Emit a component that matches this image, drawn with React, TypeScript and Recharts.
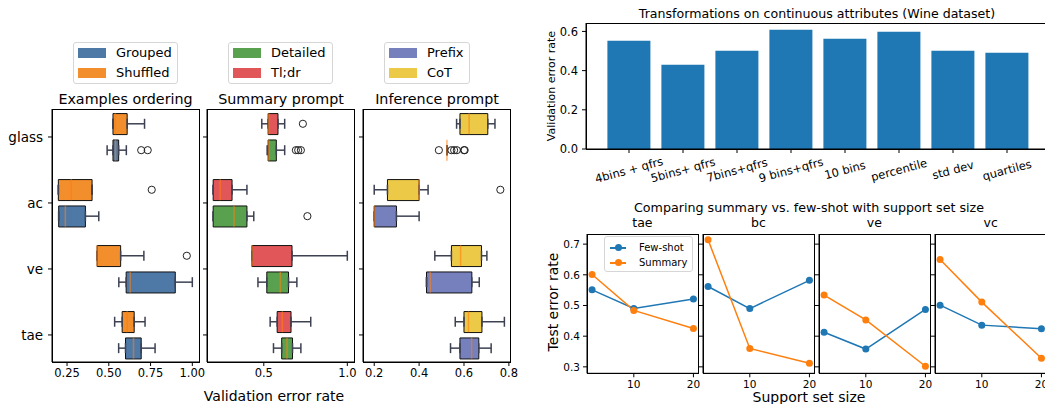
import React from "react";
import {
  Bar,
  BarChart,
  Cell,
  ComposedChart,
  ErrorBar,
  Line,
  LineChart,
  Scatter,
  XAxis,
  YAxis,
} from "recharts";

// ---- boxplot data (left) ----
const datasets = ["glass", "ac", "ve", "tae"];

// [whisker low, q1, median, q3, whisker high] per dataset
const groupedStats = [
  [0.49, 0.525, 0.54, 0.559, 0.605],
  [0.2, 0.2, 0.24, 0.36, 0.44],
  [0.56, 0.604, 0.628, 0.898, 1.0],
  [0.559, 0.6, 0.648, 0.694, 0.777],
];
const shuffledStats = [
  [0.525, 0.525, 0.539, 0.61, 0.714],
  [0.198, 0.198, 0.275, 0.4, 0.4],
  [0.43, 0.43, 0.43, 0.571, 0.71],
  [0.535, 0.58, 0.61, 0.652, 0.717],
];
const groupedOutliers = [[0.694, 0.733], [], [], []];
const shuffledOutliers = [[], [0.757], [0.967], []];

const detailedStats = [
  [0.52, 0.526, 0.53, 0.575, 0.625],
  [0.197, 0.197, 0.322, 0.399, 0.44],
  [0.465, 0.518, 0.599, 0.648, 0.698],
  [0.558, 0.607, 0.639, 0.672, 0.722],
];
const tldrStats = [
  [0.488, 0.526, 0.53, 0.585, 0.625],
  [0.197, 0.197, 0.239, 0.31, 0.399],
  [0.429, 0.429, 0.43, 0.669, 1.0],
  [0.538, 0.58, 0.611, 0.663, 0.781],
];
const detailedOutliers = [[0.692, 0.706, 0.722], [0.761], [], []];
const tldrOutliers = [[0.734], [], [], []];

const prefixStats = [
  [0.524, 0.524, 0.524, 0.524, 0.524],
  [0.2, 0.2, 0.2, 0.299, 0.4],
  [0.433, 0.433, 0.45, 0.635, 0.668],
  [0.54, 0.582, 0.634, 0.666, 0.721],
];
const cotStats = [
  [0.567, 0.582, 0.623, 0.706, 0.738],
  [0.2, 0.259, 0.4, 0.4, 0.44],
  [0.47, 0.544, 0.585, 0.678, 0.702],
  [0.561, 0.6, 0.62, 0.68, 0.78],
];
const prefixOutliers = [[0.488, 0.544, 0.556, 0.568, 0.6, 0.603], [], [], []];
const cotOutliers = [[], [0.762], [], []];

// ---- bar chart data (top right) ----
const transforms = [
  "4bins + qfrs",
  "5bins+ qfrs",
  "7bins+qfrs",
  "9 bins+qfrs",
  "10 bins",
  "percentile",
  "std dev",
  "quartiles",
];
const transformErrors = [0.552, 0.43, 0.501, 0.609, 0.563, 0.598, 0.501, 0.491];

// ---- line charts data (bottom right) ----
const supportSizes = [3, 10, 20];
const lineDatasets = ["tae", "bc", "ve", "vc"];
const fewShotErrors = [
  [0.551, 0.49, 0.521],
  [0.562, 0.49, 0.582],
  [0.413, 0.358, 0.487],
  [0.501, 0.436, 0.424],
];
const summaryErrors = [
  [0.601, 0.484, 0.425],
  [0.714, 0.36, 0.312],
  [0.534, 0.453, 0.302],
  [0.65, 0.511, 0.328],
];

const FONT = '"DejaVu Sans", sans-serif';
const WHISKER = "#3d4152";

const buildRows = (upper, lower, upperColor, lowerColor) => {
  const rows = [];
  datasets.forEach((_, i) => {
    [
      [upper, upperColor, -0.2],
      [lower, lowerColor, 0.2],
    ].forEach(([s, color, off]) => {
      const [lo, q1, med, q3, hi] = s[i];
      rows.push({
        pos: i + off,
        q1,
        q3,
        med,
        box: [q1, q3],
        loErr: [q1 - lo, 0],
        hiErr: [0, hi - q3],
        color,
      });
    });
  });
  return rows;
};

const buildOutliers = (upper, lower) => {
  const pts = [];
  datasets.forEach((_, i) => {
    upper[i].forEach((v) => pts.push({ pos: i - 0.2, x: v }));
    lower[i].forEach((v) => pts.push({ pos: i + 0.2, x: v }));
  });
  return pts;
};

const MedianLine = (p) => (
  <line
    x1={p.cx}
    x2={p.cx}
    y1={p.cy - 10.5}
    y2={p.cy + 10.5}
    stroke="#ff7f0e"
    strokeOpacity={0.6}
    strokeWidth={1.5}
  />
);

const Hollow = (p) => (
  <circle cx={p.cx} cy={p.cy} r={3.6} fill="none" stroke="#222" strokeWidth={1} />
);

const Frame = ({ left, top, width, height }) => (
  <div
    style={{
      position: "absolute",
      left,
      top,
      width,
      height,
      border: "1px solid #000",
      boxSizing: "border-box",
      pointerEvents: "none",
    }}
  />
);

const BoxPanel = ({ left, rows, outliers, domain, ticks, tickFmt, showLabels }) => (
  <>
    <div style={{ position: "absolute", left, top: 90 }}>
      <ComposedChart
        width={215}
        height={314}
        layout="vertical"
        data={rows}
        margin={{ top: 19, right: 16, bottom: 0, left: 0 }}
      >
        <XAxis
          type="number"
          domain={domain}
          ticks={ticks}
          allowDataOverflow
          tickFormatter={tickFmt}
          height={42}
          tickSize={4}
          tickMargin={3}
          stroke="#000"
          tick={{ fill: "#000", fontSize: 11.5 }}
        />
        <YAxis
          type="number"
          dataKey="pos"
          domain={[-0.424, 3.41]}
          allowDataOverflow
          ticks={[0, 1, 2, 3]}
          tickFormatter={(i) => (showLabels ? datasets[i] : "")}
          width={52}
          tickSize={4}
          tickMargin={5}
          stroke="#000"
          tick={{ fill: "#000", fontSize: 13.5 }}
        />
        <Scatter dataKey="q1" shape={() => <g />} isAnimationActive={false}>
          <ErrorBar dataKey="loErr" direction="x" width={5} stroke={WHISKER} strokeWidth={1.5} />
        </Scatter>
        <Scatter dataKey="q3" shape={() => <g />} isAnimationActive={false}>
          <ErrorBar dataKey="hiErr" direction="x" width={5} stroke={WHISKER} strokeWidth={1.5} />
        </Scatter>
        <Bar dataKey="box" barSize={21} stroke="#111" strokeWidth={1} isAnimationActive={false}>
          {rows.map((r, k) => (
            <Cell key={k} fill={r.color} />
          ))}
        </Bar>
        <Scatter dataKey="med" shape={MedianLine} isAnimationActive={false} />
        <Scatter data={outliers} dataKey="x" shape={Hollow} isAnimationActive={false} />
      </ComposedChart>
    </div>
    <Frame left={left + 52} top={109} width={148} height={254} />
  </>
);

const BoxLegend = ({ left, width, items }) => (
  <div
    style={{
      position: "absolute",
      left,
      top: 42,
      width,
      height: 42,
      border: "1px solid #d6d6d6",
      borderRadius: 3,
      boxSizing: "border-box",
      background: "#fff",
    }}
  >
    {items.map(([label, color], k) => (
      <React.Fragment key={label}>
        <div
          style={{
            position: "absolute",
            left: 4,
            top: 5 + k * 19.6,
            width: 28,
            height: 10,
            background: color,
          }}
        />
        <div
          style={{
            position: "absolute",
            left: 42,
            top: 1 + k * 19.6,
            fontSize: 13,
            lineHeight: "18px",
            whiteSpace: "nowrap",
          }}
        >
          {label}
        </div>
      </React.Fragment>
    ))}
  </div>
);

const Text = ({ x, y, size, children, rotate = 0 }) => (
  <div
    style={{
      position: "absolute",
      left: x,
      top: y,
      transform: `translate(-50%, -50%) rotate(${rotate}deg)`,
      fontSize: size,
      whiteSpace: "nowrap",
      lineHeight: 1,
    }}
  >
    {children}
  </div>
);

const RotatedTick = ({ x, y, payload }) => (
  <g transform={`translate(${x},${y + 15})`}>
    <text
      transform="rotate(-15)"
      textAnchor="middle"
      dominantBaseline="central"
      fontSize={11.5}
      fill="#000"
    >
      {payload.value}
    </text>
  </g>
);

const barData = transforms.map((name, i) => ({ name, err: transformErrors[i] }));

const lineLefts = [586.7, 702.7, 818.7, 935];

export default function App() {
  const rows1 = buildRows(shuffledStats, groupedStats, "#f28e2b", "#4e79a7");
  const rows2 = buildRows(tldrStats, detailedStats, "#e15759", "#59a14f");
  const rows3 = buildRows(cotStats, prefixStats, "#edc948", "#7580bd");

  return (
    <div
      style={{
        position: "absolute",
        left: 0,
        top: 0,
        width: 1045,
        height: 404,
        overflow: "hidden",
        background: "#fff",
        fontFamily: FONT,
        color: "#000",
      }}
    >
      {/* left: boxplots */}
      <BoxLegend
        left={73}
        width={105}
        items={[
          ["Grouped", "#4e79a7"],
          ["Shuffled", "#f28e2b"],
        ]}
      />
      <BoxLegend
        left={228}
        width={105}
        items={[
          ["Detailed", "#59a14f"],
          ["Tl;dr", "#e15759"],
        ]}
      />
      <BoxLegend
        left={384}
        width={86}
        items={[
          ["Prefix", "#7580bd"],
          ["CoT", "#edc948"],
        ]}
      />
      <Text x={125.5} y={99} size={14.3}>Examples ordering</Text>
      <Text x={281} y={99} size={14.3}>Summary prompt</Text>
      <Text x={437} y={99} size={14.3}>Inference prompt</Text>

      <BoxPanel
        left={0}
        rows={rows1}
        outliers={buildOutliers(shuffledOutliers, groupedOutliers)}
        domain={[0.16, 1.04]}
        ticks={[0.25, 0.5, 0.75, 1.0]}
        tickFmt={(v) => v.toFixed(2)}
        showLabels
      />
      <BoxPanel
        left={155}
        rows={rows2}
        outliers={buildOutliers(tldrOutliers, detailedOutliers)}
        domain={[0.16, 1.04]}
        ticks={[0.5, 1.0]}
        tickFmt={(v) => v.toFixed(1)}
        showLabels={false}
      />
      <BoxPanel
        left={311}
        rows={rows3}
        outliers={buildOutliers(cotOutliers, prefixOutliers)}
        domain={[0.15, 0.805]}
        ticks={[0.2, 0.4, 0.6, 0.8]}
        tickFmt={(v) => v.toFixed(1)}
        showLabels={false}
      />
      <Text x={274} y={396} size={14}>Validation error rate</Text>

      {/* top right: bar chart */}
      <Text x={817} y={14} size={12.6}>
        Transformations on continuous attributes (Wine dataset)
      </Text>
      <Text x={551} y={86} size={11} rotate={-90}>Validation error rate</Text>
      <div style={{ position: "absolute", left: 540, top: 0 }}>
        <BarChart
          width={510}
          height={200}
          data={barData}
          barCategoryGap="10%"
          margin={{ top: 23, right: 0, bottom: 0, left: 0 }}
        >
          <XAxis
            dataKey="name"
            interval={0}
            padding={{ left: 16, right: 16 }}
            height={51}
            tickSize={4}
            tickMargin={2}
            stroke="#000"
            tick={<RotatedTick />}
          />
          <YAxis
            type="number"
            domain={[0, 0.643]}
            ticks={[0, 0.2, 0.4, 0.6]}
            allowDataOverflow
            tickFormatter={(v) => v.toFixed(1)}
            width={46}
            tickSize={4}
            tickMargin={4}
            stroke="#000"
            tick={{ fill: "#000", fontSize: 11.5 }}
          />
          <Bar dataKey="err" fill="#1f77b4" isAnimationActive={false} />
        </BarChart>
      </div>
      <Frame left={586} top={23} width={470} height={127} />

      {/* bottom right: line charts */}
      <Text x={809} y={208} size={12.7}>
        Comparing summary vs. few-shot with support set size
      </Text>
      <Text x={553} y={302} size={14} rotate={-90}>Test error rate</Text>
      <Text x={809} y={397} size={14}>Support set size</Text>
      {lineDatasets.map((name, p) => {
        const data = supportSizes.map((size, i) => ({
          size,
          few: fewShotErrors[p][i],
          summary: summaryErrors[p][i],
        }));
        return (
          <React.Fragment key={name}>
            <Text x={lineLefts[p] + 55.7} y={223} size={12.5}>{name}</Text>
            <div style={{ position: "absolute", left: lineLefts[p] - 40, top: 224 }}>
              <LineChart
                width={161.5}
                height={171}
                data={data}
                margin={{ top: 10, right: 10, bottom: 0, left: 0 }}
              >
                <XAxis
                  type="number"
                  dataKey="size"
                  domain={[2.15, 20.85]}
                  ticks={[10, 20]}
                  allowDataOverflow
                  height={21.7}
                  tickSize={4}
                  tickMargin={3}
                  stroke="#000"
                  tick={{ fill: "#000", fontSize: 10.5 }}
                />
                <YAxis
                  type="number"
                  domain={[0.279, 0.733]}
                  ticks={[0.3, 0.4, 0.5, 0.6, 0.7]}
                  allowDataOverflow
                  tickFormatter={(v) => (p === 0 ? v.toFixed(1) : "")}
                  width={40}
                  tickSize={4}
                  tickMargin={3}
                  stroke="#000"
                  tick={{ fill: "#000", fontSize: 10.5 }}
                />
                <Line
                  dataKey="few"
                  name="Few-shot"
                  stroke="#1f77b4"
                  strokeWidth={1.5}
                  dot={{ r: 3.5, fill: "#1f77b4", stroke: "#1f77b4", strokeWidth: 0 }}
                  isAnimationActive={false}
                />
                <Line
                  dataKey="summary"
                  name="Summary"
                  stroke="#ff7f0e"
                  strokeWidth={1.5}
                  dot={{ r: 3.5, fill: "#ff7f0e", stroke: "#ff7f0e", strokeWidth: 0 }}
                  isAnimationActive={false}
                />
              </LineChart>
            </div>
            <Frame left={lineLefts[p]} top={234} width={112} height={140} />
          </React.Fragment>
        );
      })}
      <div
        style={{
          position: "absolute",
          left: 604,
          top: 236,
          width: 89,
          height: 36,
          border: "1px solid #d6d6d6",
          borderRadius: 3,
          boxSizing: "border-box",
          background: "#fff",
        }}
      >
        {[
          ["Few-shot", "#1f77b4"],
          ["Summary", "#ff7f0e"],
        ].map(([label, color], k) => (
          <React.Fragment key={label}>
            <div
              style={{
                position: "absolute",
                left: 5,
                top: 10 + k * 15,
                width: 16,
                height: 1.5,
                background: color,
              }}
            />
            <div
              style={{
                position: "absolute",
                left: 9.5,
                top: 7.2 + k * 15,
                width: 7,
                height: 7,
                borderRadius: "50%",
                background: color,
              }}
            />
            <div
              style={{
                position: "absolute",
                left: 34,
                top: 4.5 + k * 15,
                fontSize: 10,
                lineHeight: "12px",
                whiteSpace: "nowrap",
              }}
            >
              {label}
            </div>
          </React.Fragment>
        ))}
      </div>
    </div>
  );
}
